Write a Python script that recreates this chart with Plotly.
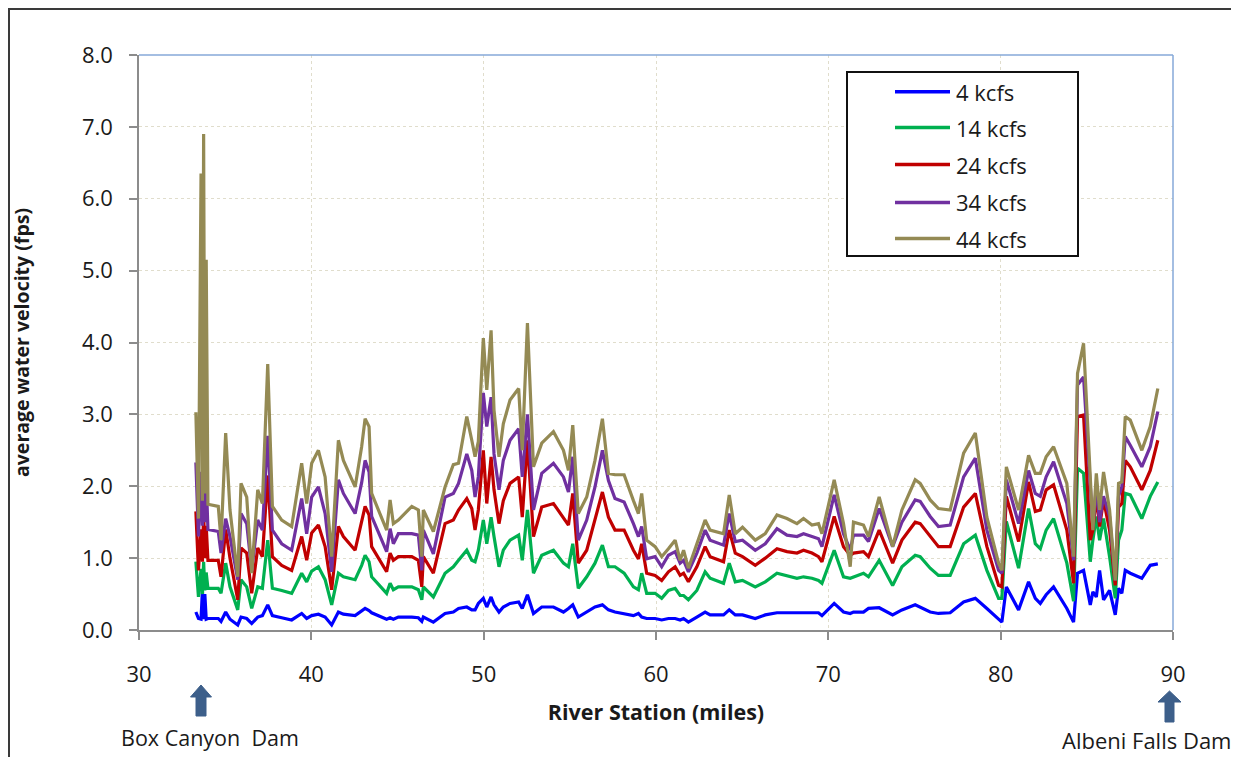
import plotly.graph_objects as go

# ---------------- data ----------------
stations = [
    33.3, 33.45, 33.6, 33.68, 33.75, 33.82, 33.9, 34.0, 34.6, 34.76, 35.03, 35.28, 35.73, 35.92, 36.25, 36.54,
    36.89, 37.16, 37.47, 37.74, 38.28, 38.86, 39.44, 39.73, 40.02, 40.41, 40.8, 41.18, 41.57, 41.86, 42.54, 42.92,
    43.12, 43.35, 43.5, 44.37, 44.57, 44.76, 45.05, 45.83, 46.21, 46.41,
    46.5, 47.08, 47.76, 48.24, 48.54, 49.02, 49.31, 49.5, 49.69, 49.98, 50.18, 50.43, 50.6, 50.89, 51.14, 51.53,
    52.03, 52.24, 52.54, 52.89, 53.37, 54.05, 54.63, 54.92, 55.17, 55.49, 55.98, 56.46, 56.89, 57.24, 57.62, 58.15,
    58.69, 58.98, 59.17, 59.46,
    59.95, 60.33, 60.72, 61.11, 61.4, 61.6, 61.88, 62.37, 62.85, 63.14, 63.92, 64.25, 64.6, 65.02, 65.76, 66.34,
    67.02, 67.6, 68.18, 68.56, 69.05, 69.43, 69.63, 70.34, 70.88, 71.27, 71.46, 72.04, 72.33, 72.95, 73.73, 74.27,
    75.04,
    75.33, 75.91, 76.39, 77.07, 77.85, 78.53, 79.2, 79.88, 80.07, 80.33, 81.04, 81.62, 82.01, 82.3, 82.64, 83.07,
    83.84, 84.23, 84.46, 84.81, 85.2, 85.35, 85.55, 85.74, 85.97, 86.32, 86.65, 86.84, 87.03, 87.23, 87.52, 88.19,
    88.68, 89.12,
]

v4 = [
    0.25, 0.16, 0.15, 0.55, 0.15, 0.5, 0.15, 0.16, 0.16, 0.12, 0.25, 0.15, 0.07, 0.18, 0.16, 0.09,
    0.18, 0.2, 0.35, 0.2, 0.17, 0.14, 0.23, 0.16, 0.2, 0.22, 0.18, 0.07, 0.25, 0.22, 0.2, 0.26,
    0.3, 0.27, 0.24, 0.15, 0.17, 0.15, 0.18, 0.18, 0.17, 0.12,
    0.18, 0.11, 0.23, 0.25, 0.3, 0.32, 0.28, 0.28, 0.37, 0.44, 0.32, 0.46, 0.35, 0.25, 0.32, 0.37,
    0.39, 0.3, 0.49, 0.23, 0.32, 0.32, 0.25, 0.3, 0.35, 0.18, 0.25, 0.32, 0.35, 0.28, 0.25, 0.23,
    0.2, 0.23, 0.18, 0.16,
    0.16, 0.14, 0.16, 0.16, 0.14, 0.16, 0.11, 0.18, 0.25, 0.21, 0.21, 0.28, 0.21, 0.21, 0.16, 0.21,
    0.24, 0.24, 0.24, 0.24, 0.24, 0.24, 0.2, 0.37, 0.25, 0.23, 0.25, 0.25, 0.3, 0.31, 0.21, 0.28,
    0.35,
    0.32, 0.25, 0.23, 0.24, 0.39, 0.44, 0.3, 0.14, 0.11, 0.6, 0.28, 0.67, 0.44, 0.37, 0.49, 0.6,
    0.3, 0.11, 0.79, 0.83, 0.35, 0.53, 0.46, 0.83, 0.42, 0.55, 0.21, 0.58, 0.51, 0.83, 0.79, 0.72,
    0.9, 0.92,
]

v14 = [
    0.95, 0.46, 0.85, 0.5, 0.95, 0.55, 0.8, 0.58, 0.58, 0.51, 0.93, 0.6, 0.28, 0.7, 0.6, 0.3,
    0.6, 0.58, 1.25, 0.58, 0.55, 0.51, 0.79, 0.67, 0.82, 0.88, 0.7, 0.35, 0.79, 0.74, 0.7, 0.9,
    1.04, 0.95, 0.74, 0.51, 0.65, 0.56, 0.6, 0.6, 0.56, 0.42,
    0.6, 0.46, 0.79, 0.88, 0.97, 1.11, 0.97, 0.95, 1.11, 1.53, 1.2, 1.57, 1.3, 0.88, 1.11, 1.25,
    1.32, 0.97, 1.67, 0.79, 1.04, 1.11, 0.93, 0.88, 1.2, 0.58, 0.74, 0.93, 1.18, 0.88, 0.88, 0.79,
    0.6, 0.56, 0.79, 0.51,
    0.51, 0.44, 0.55, 0.58, 0.48, 0.48, 0.42, 0.55, 0.81, 0.72, 0.65, 0.93, 0.67, 0.69, 0.6, 0.67,
    0.79, 0.76, 0.72, 0.74, 0.72, 0.69, 0.65, 1.11, 0.74, 0.72, 0.74, 0.79, 0.74, 0.97, 0.62, 0.88,
    1.04,
    1.02, 0.86, 0.76, 0.76, 1.2, 1.32, 0.83, 0.44, 0.44, 1.51, 0.86, 1.69, 1.2, 1.13, 1.39, 1.55,
    0.93, 0.4, 2.25, 2.18, 0.95, 1.25, 1.58, 1.25, 1.55, 1.02, 0.44, 1.25, 1.39, 1.9, 1.88, 1.55,
    1.86, 2.06,
]

v24 = [
    1.65, 0.83, 1.4, 0.95, 1.65, 1.0, 1.45, 0.97, 0.97, 0.74, 1.4, 1.0, 0.42, 1.14, 1.07, 0.51,
    1.14, 1.02, 2.15, 1.02, 0.9, 0.83, 1.3, 0.97, 1.35, 1.46, 1.16, 0.56, 1.44, 1.3, 1.11, 1.5,
    1.72, 1.6, 1.16, 0.81, 1.07, 0.97, 1.02, 1.02, 0.97, 0.6,
    1.02, 0.79, 1.48, 1.53, 1.67, 1.83, 1.69, 1.39, 1.67, 2.5, 1.76, 2.41, 1.95, 1.48, 1.8, 2.04,
    2.13, 1.57, 2.64, 1.3, 1.71, 1.76, 1.57, 1.46, 1.9, 0.93, 1.11, 1.53, 1.92, 1.57, 1.39, 1.39,
    1.11, 0.99, 1.2, 0.79,
    0.76, 0.69, 0.81, 0.88, 0.76, 0.79, 0.67, 0.88, 1.16, 1.02, 0.95, 1.39, 1.07, 1.02, 0.9, 1.0,
    1.13, 1.09, 1.07, 1.11, 1.07, 1.02, 0.95, 1.58, 1.16, 1.04, 1.07, 1.09, 1.02, 1.39, 0.93, 1.25,
    1.5,
    1.48, 1.3, 1.16, 1.16, 1.71, 1.9, 1.16, 0.62, 0.6, 1.86, 1.23, 2.06, 1.65, 1.67, 1.95, 2.02,
    1.39, 0.65, 2.97, 2.99, 1.25, 1.39, 1.86, 1.44, 1.81, 1.39, 0.62, 1.71, 1.76, 2.36, 2.27, 1.95,
    2.22, 2.64,
]

v34 = [
    2.33, 1.3, 2.2, 1.45, 2.45, 1.5, 2.1, 1.4, 1.37, 1.07, 1.55, 1.3, 0.7, 1.62, 1.48, 0.83,
    1.53, 1.39, 2.7, 1.39, 1.2, 1.11, 1.83, 1.34, 1.85, 1.99, 1.62, 0.81, 2.09, 1.9, 1.62, 2.05,
    2.36, 2.2, 1.58, 1.09, 1.41, 1.2, 1.34, 1.34, 1.32, 0.83,
    1.39, 1.06, 1.85, 1.9, 2.04, 2.45, 2.22, 1.85, 2.13, 3.3, 2.83, 3.24, 2.45, 1.95, 2.36, 2.64,
    2.8, 2.13, 3.0, 1.67, 2.18, 2.32, 2.13, 1.92, 2.41, 1.25, 1.53, 1.99, 2.5, 2.08, 1.83, 1.78,
    1.48, 1.3, 1.44, 0.99,
    1.02, 0.88, 1.04, 1.09, 0.93, 0.97, 0.81, 1.07, 1.39, 1.25, 1.18, 1.62, 1.23, 1.25, 1.11, 1.2,
    1.41, 1.32, 1.3, 1.34, 1.3, 1.27, 1.16, 1.88, 1.34, 1.11, 1.32, 1.32, 1.23, 1.69, 1.16, 1.5,
    1.81,
    1.79, 1.58, 1.44, 1.46, 2.13, 2.39, 1.39, 0.83, 0.79, 2.09, 1.48, 2.22, 1.9, 1.86, 2.13, 2.34,
    1.76, 0.97, 3.41, 3.52, 1.95, 1.44, 1.99, 1.5, 1.86, 1.58, 0.69, 1.86, 1.99, 2.69, 2.57, 2.27,
    2.55, 3.04,
]

v44 = [
    3.03, 1.55, 6.35, 1.8, 6.9, 1.9, 5.15, 1.75, 1.72, 1.25, 2.74, 1.67, 0.74, 2.04, 1.85, 0.79,
    1.95, 1.76, 3.7, 1.72, 1.53, 1.44, 2.32, 1.76, 2.32, 2.5, 2.13, 1.02, 2.64, 2.36, 1.99, 2.55,
    2.94, 2.83, 1.9, 1.39, 1.81, 1.48, 1.53, 1.72, 1.67, 1.02,
    1.67, 1.37, 1.99, 2.3, 2.32, 2.97, 2.64, 2.41, 2.62, 4.06, 3.34, 4.17, 3.06, 2.41, 2.87, 3.2,
    3.36, 2.5, 4.27, 2.27, 2.6, 2.76, 2.5, 2.22, 2.85, 1.62, 1.85, 2.36, 2.94, 2.18, 2.16, 2.16,
    1.8, 1.62, 1.9, 1.25,
    1.16, 1.02, 1.13, 1.25, 0.97, 1.11, 0.86, 1.21, 1.53, 1.39, 1.34, 1.88, 1.34, 1.43, 1.25, 1.34,
    1.6, 1.55, 1.48, 1.55, 1.46, 1.48, 1.34, 2.09, 1.48, 0.88, 1.5, 1.46, 1.3, 1.85, 1.16, 1.67,
    2.09,
    2.04, 1.81, 1.69, 1.67, 2.46, 2.74, 1.57, 0.93, 0.83, 2.27, 1.67, 2.43, 2.18, 2.18, 2.41, 2.55,
    2.04, 1.02, 3.57, 3.99, 2.13, 1.39, 2.18, 1.67, 2.2, 1.67, 0.69, 2.04, 2.06, 2.97, 2.92, 2.5,
    2.83, 3.36,
]

series_names = ["4 kcfs", "14 kcfs", "24 kcfs", "34 kcfs", "44 kcfs"]
series_values = [v4, v14, v24, v34, v44]
series_colors = ["#0000ff", "#00b050", "#c00000", "#7030a0", "#948a54"]

x_ticks = [30, 40, 50, 60, 70, 80, 90]
y_ticks = [0, 1, 2, 3, 4, 5, 6, 7, 8]

# ---------------- layout geometry (page pixels) ----------------
WIN_W, WIN_H = 1239, 765
OFF = 8                      # default body margin of the page
PL, PT, PW, PH = 139, 55, 1034, 575   # plot area in page pixels
W, H = WIN_W - 2 * OFF, WIN_H - 2 * OFF   # fit inside the window, no scrollbars
L, T = PL - OFF, PT - OFF
R, B = W - L - PW, H - T - PH
FONT = "Open Sans"


def px(xp):
    return (xp - PL) / PW


def py(yp):
    return (PT + PH - yp) / PH


fig = go.Figure()
for name, vals, col in zip(series_names, series_values, series_colors):
    fig.add_trace(go.Scatter(x=stations, y=vals, mode="lines", name=name,
                             line=dict(color=col, width=3.2), showlegend=False))

fig.update_layout(
    width=W, height=H,
    margin=dict(l=L, r=R, t=T, b=B, autoexpand=False),
    paper_bgcolor="white", plot_bgcolor="white",
    font=dict(family=FONT, size=22, color="#1a1a1a"),
)

fig.update_xaxes(
    range=[30, 90], tickvals=x_ticks, ticktext=[str(t) for t in x_ticks],
    showline=True, linecolor="#8c8c8c", linewidth=1.5,
    ticks="outside", ticklen=8, tickwidth=1.5, tickcolor="#8c8c8c",
    ticklabelstandoff=16,
    showgrid=True, gridcolor="#e0ddcc", griddash="dot", gridwidth=1.3,
    zeroline=False,
    title=dict(text="<b>River Station (miles)</b>", font=dict(size=21.5), standoff=18),
)
fig.update_yaxes(
    range=[0, 8], tickvals=y_ticks, ticktext=[f"{t:.1f}" for t in y_ticks],
    showline=True, linecolor="#8c8c8c", linewidth=1.5,
    ticks="outside", ticklen=8, tickwidth=1.5, tickcolor="#8c8c8c",
    ticklabelstandoff=12,
    showgrid=True, gridcolor="#e0ddcc", griddash="dot", gridwidth=1.3,
    zeroline=False,
    title=dict(text="<b>average water velocity (fps)</b>", font=dict(size=19.5), standoff=50),
)

shapes = []
# top and right plot-area border (blue)
shapes.append(dict(type="line", xref="paper", yref="paper", x0=0, x1=1, y0=1, y1=1,
                   line=dict(color="#86a8d8", width=1.5)))
shapes.append(dict(type="line", xref="paper", yref="paper", x0=1, x1=1, y0=0, y1=1,
                   line=dict(color="#86a8d8", width=1.5)))
# outer chart border (only left and top edges fall inside the picture)
shapes.append(dict(type="path", xref="paper", yref="paper",
                   path=f"M {px(9):.5f},{py(800):.5f} L {px(9):.5f},{py(9):.5f} L {px(1300):.5f},{py(9):.5f}",
                   line=dict(color="#3a3a3a", width=2)))

# legend box (manual)
shapes.append(dict(type="rect", xref="paper", yref="paper", x0=px(847), x1=px(1078), y0=py(256), y1=py(72),
                   line=dict(color="#111111", width=2), fillcolor="white"))
legend_rows = [91.7, 127.5, 164.5, 202.5, 238.5]
annotations = []
for name, col, ry in zip(series_names, series_colors, legend_rows):
    shapes.append(dict(type="line", xref="paper", yref="paper", x0=px(895), x1=px(950), y0=py(ry), y1=py(ry),
                       line=dict(color=col, width=3.5)))
    annotations.append(dict(xref="paper", yref="paper", x=px(954), y=py(ry), text=name, showarrow=False,
                            xanchor="left", yanchor="middle", font=dict(size=22, family=FONT)))


def block_arrow(cx, tip, head_base, bottom, head_hw, shaft_hw):
    pts = [(cx, tip), (cx + head_hw, head_base), (cx + shaft_hw, head_base), (cx + shaft_hw, bottom),
           (cx - shaft_hw, bottom), (cx - shaft_hw, head_base), (cx - head_hw, head_base)]
    path = "M " + " L ".join(f"{px(a):.5f},{py(b):.5f}" for a, b in pts) + " Z"
    return dict(type="path", xref="paper", yref="paper", path=path,
                fillcolor="#3d5f8a", line=dict(color="#3d5f8a", width=1))


shapes.append(block_arrow(201, 685, 697, 716, 10.5, 5))
shapes.append(block_arrow(1169.5, 691, 702, 722, 11.5, 4.5))

annotations.append(dict(xref="paper", yref="paper", x=px(210), y=py(737), text="Box Canyon  Dam",
                        showarrow=False, xanchor="center", yanchor="middle", font=dict(size=21.5, family=FONT)))
annotations.append(dict(xref="paper", yref="paper", x=px(1146), y=py(740), text="Albeni Falls Dam",
                        showarrow=False, xanchor="center", yanchor="middle", font=dict(size=22, family=FONT)))

fig.update_layout(shapes=shapes, annotations=annotations)

fig.write_html("out.html")
